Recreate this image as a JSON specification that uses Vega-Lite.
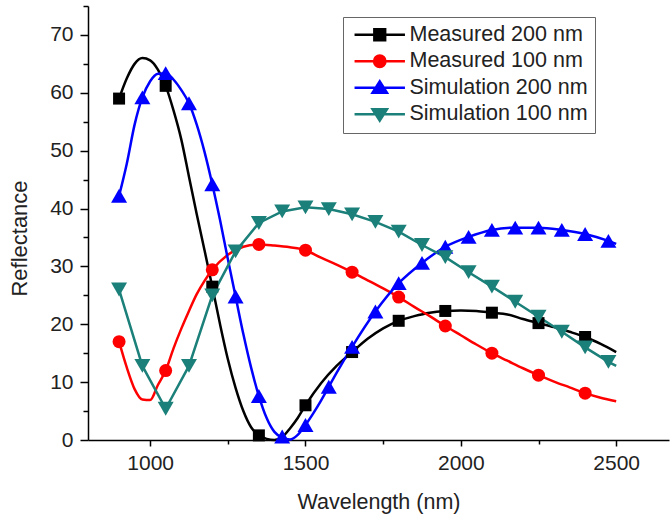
{
  "$schema": "https://vega.github.io/schema/vega-lite/v6.json",
  "width": 581,
  "height": 434,
  "autosize": {"type": "none"},
  "padding": {"left": 88, "top": 6, "right": 2, "bottom": 81},
  "background": "white",
  "config": {"view": {"stroke": null}, "font": "Liberation Sans"},
  "datasets": {
    "curves": [
      {"series": "Measured 200 nm", "wavelength": 900, "reflectance": 59},
      {"series": "Measured 200 nm", "wavelength": 925, "reflectance": 62.5},
      {"series": "Measured 200 nm", "wavelength": 950, "reflectance": 65},
      {"series": "Measured 200 nm", "wavelength": 975, "reflectance": 66},
      {"series": "Measured 200 nm", "wavelength": 1000, "reflectance": 65.6},
      {"series": "Measured 200 nm", "wavelength": 1025, "reflectance": 64},
      {"series": "Measured 200 nm", "wavelength": 1050, "reflectance": 61.2},
      {"series": "Measured 200 nm", "wavelength": 1075, "reflectance": 57},
      {"series": "Measured 200 nm", "wavelength": 1100, "reflectance": 52},
      {"series": "Measured 200 nm", "wavelength": 1125, "reflectance": 45.5},
      {"series": "Measured 200 nm", "wavelength": 1150, "reflectance": 39},
      {"series": "Measured 200 nm", "wavelength": 1175, "reflectance": 32.8},
      {"series": "Measured 200 nm", "wavelength": 1200, "reflectance": 26.5},
      {"series": "Measured 200 nm", "wavelength": 1225, "reflectance": 20},
      {"series": "Measured 200 nm", "wavelength": 1250, "reflectance": 14},
      {"series": "Measured 200 nm", "wavelength": 1275, "reflectance": 9},
      {"series": "Measured 200 nm", "wavelength": 1300, "reflectance": 5},
      {"series": "Measured 200 nm", "wavelength": 1325, "reflectance": 2.2},
      {"series": "Measured 200 nm", "wavelength": 1350, "reflectance": 0.8},
      {"series": "Measured 200 nm", "wavelength": 1375, "reflectance": 0.2},
      {"series": "Measured 200 nm", "wavelength": 1400, "reflectance": 0},
      {"series": "Measured 200 nm", "wavelength": 1425, "reflectance": 0.5},
      {"series": "Measured 200 nm", "wavelength": 1450, "reflectance": 2},
      {"series": "Measured 200 nm", "wavelength": 1475, "reflectance": 3.8},
      {"series": "Measured 200 nm", "wavelength": 1500, "reflectance": 6},
      {"series": "Measured 200 nm", "wavelength": 1550, "reflectance": 9.8},
      {"series": "Measured 200 nm", "wavelength": 1600, "reflectance": 12.8},
      {"series": "Measured 200 nm", "wavelength": 1650, "reflectance": 15.2},
      {"series": "Measured 200 nm", "wavelength": 1700, "reflectance": 17.5},
      {"series": "Measured 200 nm", "wavelength": 1750, "reflectance": 19.3},
      {"series": "Measured 200 nm", "wavelength": 1800, "reflectance": 20.6},
      {"series": "Measured 200 nm", "wavelength": 1850, "reflectance": 21.4},
      {"series": "Measured 200 nm", "wavelength": 1900, "reflectance": 22},
      {"series": "Measured 200 nm", "wavelength": 1950, "reflectance": 22.3},
      {"series": "Measured 200 nm", "wavelength": 2000, "reflectance": 22.4},
      {"series": "Measured 200 nm", "wavelength": 2050, "reflectance": 22.3},
      {"series": "Measured 200 nm", "wavelength": 2100, "reflectance": 22},
      {"series": "Measured 200 nm", "wavelength": 2150, "reflectance": 21.7},
      {"series": "Measured 200 nm", "wavelength": 2200, "reflectance": 20.9},
      {"series": "Measured 200 nm", "wavelength": 2250, "reflectance": 20.2},
      {"series": "Measured 200 nm", "wavelength": 2300, "reflectance": 19.5},
      {"series": "Measured 200 nm", "wavelength": 2350, "reflectance": 18.7},
      {"series": "Measured 200 nm", "wavelength": 2400, "reflectance": 17.8},
      {"series": "Measured 200 nm", "wavelength": 2450, "reflectance": 16.6},
      {"series": "Measured 200 nm", "wavelength": 2500, "reflectance": 15.2},

      {"series": "Measured 100 nm", "wavelength": 900, "reflectance": 17},
      {"series": "Measured 100 nm", "wavelength": 925, "reflectance": 12.5},
      {"series": "Measured 100 nm", "wavelength": 950, "reflectance": 8.8},
      {"series": "Measured 100 nm", "wavelength": 975, "reflectance": 7},
      {"series": "Measured 100 nm", "wavelength": 1000, "reflectance": 6.9},
      {"series": "Measured 100 nm", "wavelength": 1025, "reflectance": 9.5},
      {"series": "Measured 100 nm", "wavelength": 1050, "reflectance": 12},
      {"series": "Measured 100 nm", "wavelength": 1075, "reflectance": 15.8},
      {"series": "Measured 100 nm", "wavelength": 1100, "reflectance": 19.2},
      {"series": "Measured 100 nm", "wavelength": 1125, "reflectance": 22.3},
      {"series": "Measured 100 nm", "wavelength": 1150, "reflectance": 25.2},
      {"series": "Measured 100 nm", "wavelength": 1175, "reflectance": 27.5},
      {"series": "Measured 100 nm", "wavelength": 1200, "reflectance": 29.4},
      {"series": "Measured 100 nm", "wavelength": 1250, "reflectance": 32},
      {"series": "Measured 100 nm", "wavelength": 1300, "reflectance": 33.4},
      {"series": "Measured 100 nm", "wavelength": 1350, "reflectance": 33.8},
      {"series": "Measured 100 nm", "wavelength": 1400, "reflectance": 33.6},
      {"series": "Measured 100 nm", "wavelength": 1450, "reflectance": 33.3},
      {"series": "Measured 100 nm", "wavelength": 1500, "reflectance": 32.8},
      {"series": "Measured 100 nm", "wavelength": 1550, "reflectance": 31.5},
      {"series": "Measured 100 nm", "wavelength": 1600, "reflectance": 30.3},
      {"series": "Measured 100 nm", "wavelength": 1650, "reflectance": 29},
      {"series": "Measured 100 nm", "wavelength": 1700, "reflectance": 27.6},
      {"series": "Measured 100 nm", "wavelength": 1750, "reflectance": 26.2},
      {"series": "Measured 100 nm", "wavelength": 1800, "reflectance": 24.7},
      {"series": "Measured 100 nm", "wavelength": 1850, "reflectance": 23},
      {"series": "Measured 100 nm", "wavelength": 1900, "reflectance": 21.4},
      {"series": "Measured 100 nm", "wavelength": 1950, "reflectance": 19.7},
      {"series": "Measured 100 nm", "wavelength": 2000, "reflectance": 18.1},
      {"series": "Measured 100 nm", "wavelength": 2050, "reflectance": 16.5},
      {"series": "Measured 100 nm", "wavelength": 2100, "reflectance": 15},
      {"series": "Measured 100 nm", "wavelength": 2150, "reflectance": 13.7},
      {"series": "Measured 100 nm", "wavelength": 2200, "reflectance": 12.4},
      {"series": "Measured 100 nm", "wavelength": 2250, "reflectance": 11.2},
      {"series": "Measured 100 nm", "wavelength": 2300, "reflectance": 10.1},
      {"series": "Measured 100 nm", "wavelength": 2350, "reflectance": 9.1},
      {"series": "Measured 100 nm", "wavelength": 2400, "reflectance": 8.1},
      {"series": "Measured 100 nm", "wavelength": 2450, "reflectance": 7.3},
      {"series": "Measured 100 nm", "wavelength": 2500, "reflectance": 6.7},

      {"series": "Simulation 200 nm", "wavelength": 900, "reflectance": 42.2},
      {"series": "Simulation 200 nm", "wavelength": 925, "reflectance": 47.8},
      {"series": "Simulation 200 nm", "wavelength": 950, "reflectance": 54.5},
      {"series": "Simulation 200 nm", "wavelength": 975, "reflectance": 59.2},
      {"series": "Simulation 200 nm", "wavelength": 1000, "reflectance": 62},
      {"series": "Simulation 200 nm", "wavelength": 1025, "reflectance": 63.3},
      {"series": "Simulation 200 nm", "wavelength": 1050, "reflectance": 63.4},
      {"series": "Simulation 200 nm", "wavelength": 1075, "reflectance": 62.3},
      {"series": "Simulation 200 nm", "wavelength": 1100, "reflectance": 60.5},
      {"series": "Simulation 200 nm", "wavelength": 1125, "reflectance": 58.2},
      {"series": "Simulation 200 nm", "wavelength": 1150, "reflectance": 54.5},
      {"series": "Simulation 200 nm", "wavelength": 1175, "reflectance": 49.8},
      {"series": "Simulation 200 nm", "wavelength": 1200, "reflectance": 44.2},
      {"series": "Simulation 200 nm", "wavelength": 1225, "reflectance": 38},
      {"series": "Simulation 200 nm", "wavelength": 1250, "reflectance": 31.3},
      {"series": "Simulation 200 nm", "wavelength": 1275, "reflectance": 24.8},
      {"series": "Simulation 200 nm", "wavelength": 1300, "reflectance": 18.3},
      {"series": "Simulation 200 nm", "wavelength": 1325, "reflectance": 12.5},
      {"series": "Simulation 200 nm", "wavelength": 1350, "reflectance": 7.6},
      {"series": "Simulation 200 nm", "wavelength": 1375, "reflectance": 3.8},
      {"series": "Simulation 200 nm", "wavelength": 1400, "reflectance": 1.4},
      {"series": "Simulation 200 nm", "wavelength": 1425, "reflectance": 0.4},
      {"series": "Simulation 200 nm", "wavelength": 1450, "reflectance": 0.1},
      {"series": "Simulation 200 nm", "wavelength": 1475, "reflectance": 0.9},
      {"series": "Simulation 200 nm", "wavelength": 1500, "reflectance": 2.6},
      {"series": "Simulation 200 nm", "wavelength": 1525, "reflectance": 4.6},
      {"series": "Simulation 200 nm", "wavelength": 1550, "reflectance": 6.8},
      {"series": "Simulation 200 nm", "wavelength": 1575, "reflectance": 9.2},
      {"series": "Simulation 200 nm", "wavelength": 1600, "reflectance": 11.6},
      {"series": "Simulation 200 nm", "wavelength": 1650, "reflectance": 16.1},
      {"series": "Simulation 200 nm", "wavelength": 1725, "reflectance": 22.2},
      {"series": "Simulation 200 nm", "wavelength": 1800, "reflectance": 27.1},
      {"series": "Simulation 200 nm", "wavelength": 1875, "reflectance": 30.6},
      {"series": "Simulation 200 nm", "wavelength": 1950, "reflectance": 33.4},
      {"series": "Simulation 200 nm", "wavelength": 2025, "reflectance": 35.1},
      {"series": "Simulation 200 nm", "wavelength": 2100, "reflectance": 36.3},
      {"series": "Simulation 200 nm", "wavelength": 2175, "reflectance": 36.7},
      {"series": "Simulation 200 nm", "wavelength": 2250, "reflectance": 36.7},
      {"series": "Simulation 200 nm", "wavelength": 2325, "reflectance": 36.3},
      {"series": "Simulation 200 nm", "wavelength": 2400, "reflectance": 35.6},
      {"series": "Simulation 200 nm", "wavelength": 2475, "reflectance": 34.4},
      {"series": "Simulation 200 nm", "wavelength": 2500, "reflectance": 33.9},

      {"series": "Simulation 100 nm", "wavelength": 900, "reflectance": 26},
      {"series": "Simulation 100 nm", "wavelength": 975, "reflectance": 12.8},
      {"series": "Simulation 100 nm", "wavelength": 1050, "reflectance": 5.4},
      {"series": "Simulation 100 nm", "wavelength": 1125, "reflectance": 12.8},
      {"series": "Simulation 100 nm", "wavelength": 1200, "reflectance": 25},
      {"series": "Simulation 100 nm", "wavelength": 1275, "reflectance": 32.6},
      {"series": "Simulation 100 nm", "wavelength": 1350, "reflectance": 37.5},
      {"series": "Simulation 100 nm", "wavelength": 1425, "reflectance": 39.5},
      {"series": "Simulation 100 nm", "wavelength": 1500, "reflectance": 40.2},
      {"series": "Simulation 100 nm", "wavelength": 1575, "reflectance": 39.9},
      {"series": "Simulation 100 nm", "wavelength": 1650, "reflectance": 39},
      {"series": "Simulation 100 nm", "wavelength": 1725, "reflectance": 37.7},
      {"series": "Simulation 100 nm", "wavelength": 1800, "reflectance": 36},
      {"series": "Simulation 100 nm", "wavelength": 1875, "reflectance": 33.7},
      {"series": "Simulation 100 nm", "wavelength": 1950, "reflectance": 31.6},
      {"series": "Simulation 100 nm", "wavelength": 2025, "reflectance": 29},
      {"series": "Simulation 100 nm", "wavelength": 2100, "reflectance": 26.5},
      {"series": "Simulation 100 nm", "wavelength": 2175, "reflectance": 23.9},
      {"series": "Simulation 100 nm", "wavelength": 2250, "reflectance": 21.3},
      {"series": "Simulation 100 nm", "wavelength": 2325, "reflectance": 18.7},
      {"series": "Simulation 100 nm", "wavelength": 2400, "reflectance": 16},
      {"series": "Simulation 100 nm", "wavelength": 2475, "reflectance": 13.5},
      {"series": "Simulation 100 nm", "wavelength": 2500, "reflectance": 12.8}
    ],
    "markers": [
      {"series": "Measured 200 nm", "wavelength": 900, "reflectance": 59},
      {"series": "Measured 200 nm", "wavelength": 1050, "reflectance": 61.2},
      {"series": "Measured 200 nm", "wavelength": 1200, "reflectance": 26.5},
      {"series": "Measured 200 nm", "wavelength": 1350, "reflectance": 0.8},
      {"series": "Measured 200 nm", "wavelength": 1500, "reflectance": 6},
      {"series": "Measured 200 nm", "wavelength": 1650, "reflectance": 15.2},
      {"series": "Measured 200 nm", "wavelength": 1800, "reflectance": 20.6},
      {"series": "Measured 200 nm", "wavelength": 1950, "reflectance": 22.3},
      {"series": "Measured 200 nm", "wavelength": 2100, "reflectance": 22},
      {"series": "Measured 200 nm", "wavelength": 2250, "reflectance": 20.2},
      {"series": "Measured 200 nm", "wavelength": 2400, "reflectance": 17.8},

      {"series": "Measured 100 nm", "wavelength": 900, "reflectance": 17},
      {"series": "Measured 100 nm", "wavelength": 1050, "reflectance": 12},
      {"series": "Measured 100 nm", "wavelength": 1200, "reflectance": 29.4},
      {"series": "Measured 100 nm", "wavelength": 1350, "reflectance": 33.8},
      {"series": "Measured 100 nm", "wavelength": 1500, "reflectance": 32.8},
      {"series": "Measured 100 nm", "wavelength": 1650, "reflectance": 29},
      {"series": "Measured 100 nm", "wavelength": 1800, "reflectance": 24.7},
      {"series": "Measured 100 nm", "wavelength": 1950, "reflectance": 19.7},
      {"series": "Measured 100 nm", "wavelength": 2100, "reflectance": 15},
      {"series": "Measured 100 nm", "wavelength": 2250, "reflectance": 11.2},
      {"series": "Measured 100 nm", "wavelength": 2400, "reflectance": 8.1},

      {"series": "Simulation 200 nm", "wavelength": 900, "reflectance": 42.2},
      {"series": "Simulation 200 nm", "wavelength": 975, "reflectance": 59.2},
      {"series": "Simulation 200 nm", "wavelength": 1050, "reflectance": 63.4},
      {"series": "Simulation 200 nm", "wavelength": 1125, "reflectance": 58.2},
      {"series": "Simulation 200 nm", "wavelength": 1200, "reflectance": 44.2},
      {"series": "Simulation 200 nm", "wavelength": 1275, "reflectance": 24.8},
      {"series": "Simulation 200 nm", "wavelength": 1350, "reflectance": 7.6},
      {"series": "Simulation 200 nm", "wavelength": 1425, "reflectance": 0.6},
      {"series": "Simulation 200 nm", "wavelength": 1500, "reflectance": 2.6},
      {"series": "Simulation 200 nm", "wavelength": 1575, "reflectance": 9.2},
      {"series": "Simulation 200 nm", "wavelength": 1650, "reflectance": 16.1},
      {"series": "Simulation 200 nm", "wavelength": 1725, "reflectance": 22.2},
      {"series": "Simulation 200 nm", "wavelength": 1800, "reflectance": 27.1},
      {"series": "Simulation 200 nm", "wavelength": 1875, "reflectance": 30.6},
      {"series": "Simulation 200 nm", "wavelength": 1950, "reflectance": 33.4},
      {"series": "Simulation 200 nm", "wavelength": 2025, "reflectance": 35.1},
      {"series": "Simulation 200 nm", "wavelength": 2100, "reflectance": 36.3},
      {"series": "Simulation 200 nm", "wavelength": 2175, "reflectance": 36.7},
      {"series": "Simulation 200 nm", "wavelength": 2250, "reflectance": 36.7},
      {"series": "Simulation 200 nm", "wavelength": 2325, "reflectance": 36.3},
      {"series": "Simulation 200 nm", "wavelength": 2400, "reflectance": 35.6},
      {"series": "Simulation 200 nm", "wavelength": 2475, "reflectance": 34.4},

      {"series": "Simulation 100 nm", "wavelength": 900, "reflectance": 26},
      {"series": "Simulation 100 nm", "wavelength": 975, "reflectance": 12.8},
      {"series": "Simulation 100 nm", "wavelength": 1050, "reflectance": 5.4},
      {"series": "Simulation 100 nm", "wavelength": 1125, "reflectance": 12.8},
      {"series": "Simulation 100 nm", "wavelength": 1200, "reflectance": 25},
      {"series": "Simulation 100 nm", "wavelength": 1275, "reflectance": 32.6},
      {"series": "Simulation 100 nm", "wavelength": 1350, "reflectance": 37.5},
      {"series": "Simulation 100 nm", "wavelength": 1425, "reflectance": 39.5},
      {"series": "Simulation 100 nm", "wavelength": 1500, "reflectance": 40.2},
      {"series": "Simulation 100 nm", "wavelength": 1575, "reflectance": 39.9},
      {"series": "Simulation 100 nm", "wavelength": 1650, "reflectance": 39},
      {"series": "Simulation 100 nm", "wavelength": 1725, "reflectance": 37.7},
      {"series": "Simulation 100 nm", "wavelength": 1800, "reflectance": 36},
      {"series": "Simulation 100 nm", "wavelength": 1875, "reflectance": 33.7},
      {"series": "Simulation 100 nm", "wavelength": 1950, "reflectance": 31.6},
      {"series": "Simulation 100 nm", "wavelength": 2025, "reflectance": 29},
      {"series": "Simulation 100 nm", "wavelength": 2100, "reflectance": 26.5},
      {"series": "Simulation 100 nm", "wavelength": 2175, "reflectance": 23.9},
      {"series": "Simulation 100 nm", "wavelength": 2250, "reflectance": 21.3},
      {"series": "Simulation 100 nm", "wavelength": 2325, "reflectance": 18.7},
      {"series": "Simulation 100 nm", "wavelength": 2400, "reflectance": 16},
      {"series": "Simulation 100 nm", "wavelength": 2475, "reflectance": 13.5}
    ]
  },
  "encoding": {
    "x": {
      "field": "wavelength", "type": "quantitative",
      "scale": {"domain": [800, 2670], "nice": false, "zero": false},
      "axis": {
        "title": "Wavelength (nm)",
        "values": [1000, 1250, 1500, 1750, 2000, 2250, 2500],
        "labelExpr": "datum.value % 500 === 0 ? datum.label : ''",
        "format": "d",
        "grid": false,
        "domainColor": "#000", "domainWidth": 1.5,
        "tickColor": "#000", "tickWidth": 1.5,
        "tickSize": {"condition": {"test": "datum.value % 500 === 0", "value": 6}, "value": 4},
        "labelFontSize": 21, "labelColor": "#222", "labelFont": "Liberation Sans",
        "labelPadding": 6,
        "titleFontSize": 21.5, "titleFontWeight": "normal", "titleColor": "#222", "titleFont": "Liberation Sans",
        "titlePadding": 18
      }
    },
    "y": {
      "field": "reflectance", "type": "quantitative",
      "scale": {"domain": [0, 75], "nice": false},
      "axis": {
        "title": "Reflectance",
        "values": [0, 5, 10, 15, 20, 25, 30, 35, 40, 45, 50, 55, 60, 65, 70, 75],
        "labelExpr": "datum.value % 10 === 0 ? datum.label : ''",
        "grid": false,
        "domainColor": "#000", "domainWidth": 1.5,
        "tickColor": "#000", "tickWidth": 1.5,
        "tickSize": {"condition": {"test": "datum.value % 10 === 0", "value": 8}, "value": 5},
        "labelFontSize": 21, "labelColor": "#222", "labelFont": "Liberation Sans",
        "labelPadding": 7,
        "titleFontSize": 22, "titleFontWeight": "normal", "titleColor": "#222", "titleFont": "Liberation Sans",
        "titleY": 232,
        "titleX": -57
      }
    },
    "color": {
      "field": "series", "type": "nominal",
      "scale": {
        "domain": ["Measured 200 nm", "Measured 100 nm", "Simulation 200 nm", "Simulation 100 nm"],
        "range": ["#000000", "#ff0000", "#0000ff", "#1b8079"]
      },
      "legend": {
        "title": null,
        "orient": "none", "legendX": 255, "legendY": 11,
        "labelFontSize": 21.5, "labelFont": "Liberation Sans", "labelColor": "#222",
        "labelLimit": 400,
        "symbolSize": 144, "symbolStrokeWidth": 2.5,
        "symbolOffset": 19, "labelOffset": 19,
        "padding": 7, "rowPadding": 3.5,
        "strokeColor": "#666", "fillColor": "white",
        "encode": {
          "symbols": {
            "update": {
              "shape": {"signal": "datum.value === 'Measured 200 nm' ? 'M-4.2,0H4.2M-0.9,-0.9H0.9V0.9H-0.9Z' : datum.value === 'Measured 100 nm' ? 'M-4.2,0H4.2M-0.95,0A0.95,0.95 0 1,0 0.95,0A0.95,0.95 0 1,0 -0.95,0Z' : datum.value === 'Simulation 200 nm' ? 'M-4.2,0H4.2M0,-1.05L1.2,0.85H-1.2Z' : 'M-4.2,0H4.2M0,1.05L1.2,-0.85H-1.2Z'"},
              "fill": {"signal": "scale('color', datum.value)"},
              "stroke": {"signal": "scale('color', datum.value)"},
              "strokeWidth": {"value": 2.5},
              "opacity": {"value": 1}
            }
          }
        }
      }
    }
  },
  "layer": [
    {
      "data": {"name": "curves"},
      "transform": [{"filter": "datum.series !== 'Simulation 100 nm'"}],
      "mark": {"type": "line", "interpolate": "monotone", "strokeWidth": 2.5}
    },
    {
      "data": {"name": "curves"},
      "transform": [{"filter": "datum.series === 'Simulation 100 nm'"}],
      "mark": {"type": "line", "interpolate": "linear", "strokeWidth": 2.5}
    },
    {
      "data": {"name": "markers"},
      "transform": [{"filter": "datum.series === 'Measured 200 nm'"}],
      "mark": {"type": "point", "shape": "square", "size": 144, "filled": true, "opacity": 1, "strokeWidth": 0}
    },
    {
      "data": {"name": "markers"},
      "transform": [{"filter": "datum.series === 'Measured 100 nm'"}],
      "mark": {"type": "point", "shape": "circle", "size": 169, "filled": true, "opacity": 1, "strokeWidth": 0}
    },
    {
      "data": {"name": "markers"},
      "transform": [{"filter": "datum.series === 'Simulation 200 nm'"}],
      "mark": {"type": "point", "shape": "triangle-up", "size": 256, "filled": true, "opacity": 1, "strokeWidth": 0}
    },
    {
      "data": {"name": "markers"},
      "transform": [{"filter": "datum.series === 'Simulation 100 nm'"}],
      "mark": {"type": "point", "shape": "triangle-down", "size": 256, "filled": true, "opacity": 1, "strokeWidth": 0}
    }
  ]
}
